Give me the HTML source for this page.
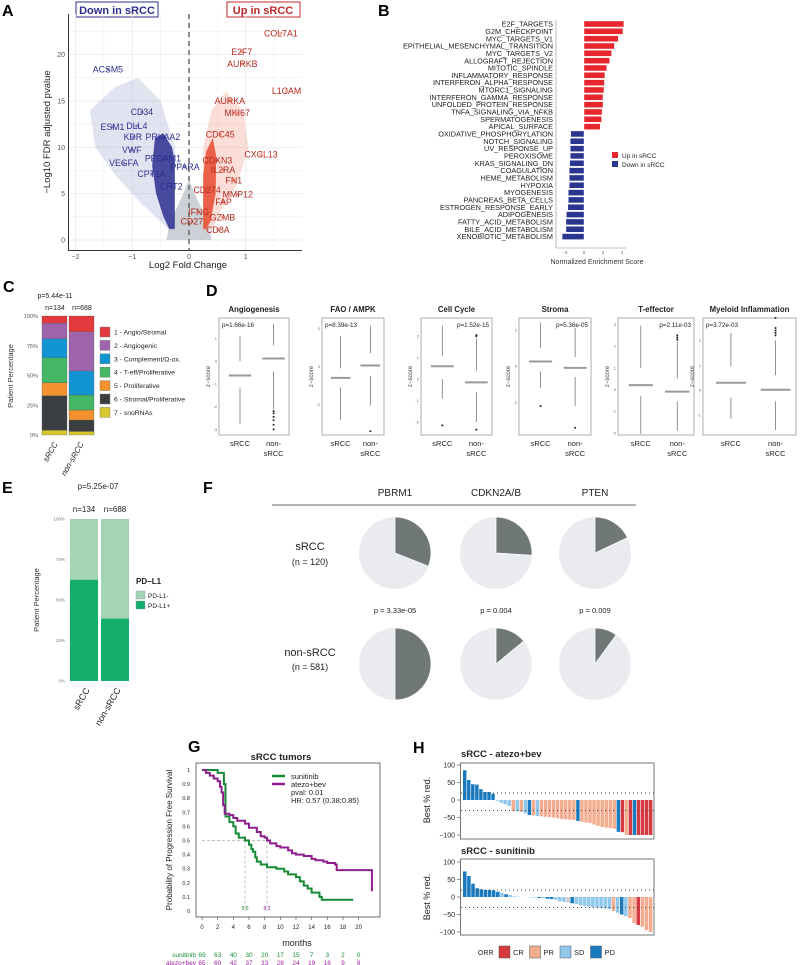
<!DOCTYPE html>
<html><head><meta charset="utf-8">
<style>
html,body{margin:0;padding:0;background:#fff;}
svg{display:block;font-family:"Liberation Sans",sans-serif;}
</style></head>
<body>
<svg id="fig" width="800" height="965" viewBox="0 0 800 965">
<rect x="0" y="0" width="800" height="965" fill="#fff"/>
<g font-weight="bold" font-size="16" fill="#000">
<text x="2" y="16">A</text>
<text x="378" y="16">B</text>
<text x="3" y="292">C</text>
<text x="206" y="296">D</text>
<text x="2" y="493">E</text>
<text x="203" y="493">F</text>
<text x="188" y="752">G</text>
<text x="413" y="753">H</text>
</g>
<rect x="76" y="2" width="82" height="15" fill="none" stroke="#2d2f8f" stroke-width="1"/>
<text x="117" y="14" text-anchor="middle" font-size="11" font-weight="bold" fill="#2d2f8f">Down in sRCC</text>
<rect x="227" y="2" width="73" height="15" fill="none" stroke="#c0282e" stroke-width="1"/>
<text x="263" y="14" text-anchor="middle" font-size="11" font-weight="bold" fill="#c0282e">Up in  sRCC</text>
<text x="188" y="268" text-anchor="middle" font-size="9.5" fill="#222">Log2 Fold Change</text>
<text transform="translate(50,132) rotate(-90)" text-anchor="middle" font-size="9.5" fill="#222">−Log10 FDR adjusted pvalue</text>
<text x="597" y="264" text-anchor="middle" font-size="7" fill="#333">Normalized Enrichment Score</text>
<rect x="612" y="152" width="6" height="6" fill="#e8262e"/>
<text x="622" y="158" font-size="6.5" fill="#222">Up in sRCC</text>
<rect x="612" y="161" width="6" height="6" fill="#2a3590"/>
<text x="622" y="167" font-size="6.5" fill="#222">Down in sRCC</text>
<text x="55" y="298" text-anchor="middle" font-size="7" fill="#222">p=5.44e-11</text>
<text x="55" y="310" text-anchor="middle" font-size="7" fill="#222">n=134</text>
<text x="82" y="310" text-anchor="middle" font-size="7" fill="#222">n=688</text>
<text transform="translate(13,376) rotate(-90)" text-anchor="middle" font-size="7.5" fill="#333">Patient Percentage</text>
<text transform="translate(58,444) rotate(-60)" text-anchor="end" font-size="8" font-style="italic" fill="#222">sRCC</text>
<text transform="translate(84,444) rotate(-60)" text-anchor="end" font-size="8" font-style="italic" fill="#222">non-sRCC</text>
<text x="98" y="489" text-anchor="middle" font-size="8" fill="#222">p=5.25e-07</text>
<text x="84" y="512" text-anchor="middle" font-size="8" fill="#222">n=134</text>
<text x="115" y="512" text-anchor="middle" font-size="8" fill="#222">n=688</text>
<text transform="translate(39,600) rotate(-90)" text-anchor="middle" font-size="7.5" fill="#333">Patient Percentage</text>
<text transform="translate(90,690) rotate(-60)" text-anchor="end" font-size="9" fill="#222">sRCC</text>
<text transform="translate(121,690) rotate(-60)" text-anchor="end" font-size="9" fill="#222">non-sRCC</text>
<text x="136" y="584" font-size="8" font-weight="bold" fill="#222">PD−L1</text>
<rect x="136" y="591" width="9" height="8" fill="#a3d4b3" stroke="#999" stroke-width="0.4"/>
<text x="148" y="598" font-size="6.5" fill="#222">PD-L1-</text>
<rect x="136" y="601" width="9" height="8" fill="#13ad6c" stroke="#999" stroke-width="0.4"/>
<text x="148" y="608" font-size="6.5" fill="#222">PD-L1+</text>
<line x1="272" y1="505" x2="636" y2="505" stroke="#666" stroke-width="1"/>
<text x="310" y="550" text-anchor="middle" font-size="11" fill="#222">sRCC</text>
<text x="310" y="565" text-anchor="middle" font-size="9" fill="#222">(n = 120)</text>
<text x="310" y="656" text-anchor="middle" font-size="11" fill="#222">non-sRCC</text>
<text x="310" y="670" text-anchor="middle" font-size="9" fill="#222">(n = 581)</text>
<text x="281" y="760" text-anchor="middle" font-size="9.5" font-weight="bold" fill="#222">sRCC tumors</text>
<text x="297" y="946" text-anchor="middle" font-size="9" fill="#222">months</text>
<text transform="translate(172,840) rotate(-90)" text-anchor="middle" font-size="8" fill="#222">Probability of Progression Free Survival</text>
<line x1="272" y1="776" x2="285" y2="776" stroke="#178a36" stroke-width="2.5"/>
<text x="291" y="779" font-size="7.5" fill="#222">sunitinib</text>
<line x1="272" y1="784" x2="285" y2="784" stroke="#8e1e8e" stroke-width="2.5"/>
<text x="291" y="787" font-size="7.5" fill="#222">atezo+bev</text>
<text x="291" y="795" font-size="7.5" fill="#222">pval: 0.01</text>
<text x="291" y="803" font-size="7.5" fill="#222">HR: 0.57 (0.38;0.85)</text>
<text x="196" y="957" text-anchor="end" font-size="6.5" fill="#178a36">sunitinib</text>
<text x="196" y="965" text-anchor="end" font-size="6.5" fill="#97239a">atezo+bev</text>
<text x="461" y="757" font-size="9.5" font-weight="bold" fill="#222">sRCC - atezo+bev</text>
<text x="461" y="854" font-size="9.5" font-weight="bold" fill="#222">sRCC - sunitinib</text>
<text transform="translate(430,800) rotate(-90)" text-anchor="middle" font-size="9" fill="#222">Best % red.</text>
<text transform="translate(430,897) rotate(-90)" text-anchor="middle" font-size="9" fill="#222">Best % red.</text>
<text x="478" y="955" font-size="7" fill="#222">ORR</text>
</svg>
<script>
const aGenes=['ACSM5','CD34','ESM1','DLL4','KDR','PRKAA2','VWF','PECAM1','VEGFA','PPARA','CPT1A','CPT2','COL7A1','E2F7','AURKB','L1CAM','AURKA','MKI67','CDC45','CXCL13','CDKN3','IL2RA','FN1','CD274','MMP12','FAP','IFNG','GZMB','CD27','CD8A'];
const aFC=[-1.43,-0.83,-1.35,-0.92,-0.99,-0.46,-1.01,-0.46,-1.15,-0.07,-0.66,-0.31,1.62,0.93,0.94,1.72,0.72,0.85,0.55,1.27,0.5,0.6,0.79,0.32,0.86,0.61,0.17,0.59,0.05,0.51];
const aP=[18.4,13.8,12.2,12.3,11.1,11.1,9.7,8.8,8.3,7.9,7.1,5.75,22.3,20.3,19.0,16.1,15.0,13.7,11.4,9.2,8.6,7.55,6.4,5.4,4.9,4.1,3.0,2.45,2.0,1.1];
const aXTicks=[-2,-1,0,1];
const aYTicks=[0,5,10,15,20];
const bPathways=['E2F_TARGETS','G2M_CHECKPOINT','MYC_TARGETS_V1','EPITHELIAL_MESENCHYMAL_TRANSITION','MYC_TARGETS_V2','ALLOGRAFT_REJECTION','MITOTIC_SPINDLE','INFLAMMATORY_RESPONSE','INTERFERON_ALPHA_RESPONSE','MTORC1_SIGNALING','INTERFERON_GAMMA_RESPONSE','UNFOLDED_PROTEIN_RESPONSE','TNFA_SIGNALING_VIA_NFKB','SPERMATOGENESIS','APICAL_SURFACE','OXIDATIVE_PHOSPHORYLATION','NOTCH_SIGNALING','UV_RESPONSE_UP','PEROXISOME','KRAS_SIGNALING_DN','COAGULATION','HEME_METABOLISM','HYPOXIA','MYOGENESIS','PANCREAS_BETA_CELLS','ESTROGEN_RESPONSE_EARLY','ADIPOGENESIS','FATTY_ACID_METABOLISM','BILE_ACID_METABOLISM','XENOBIOTIC_METABOLISM'];
const bNES=[4.2,4.1,3.6,3.2,2.9,2.7,2.4,2.2,2.15,2.1,2.0,2.0,1.9,1.85,1.7,-1.4,-1.45,-1.45,-1.45,-1.5,-1.55,-1.55,-1.55,-1.65,-1.65,-1.7,-1.85,-1.9,-1.9,-2.3];
const bTicks=[-2,0,2,4];
const cSubtypes=['1 - Angio/Stromal','2 - Angiogenic','3 - Complement/Ω-ox.','4 - T-eff/Proliferative','5 - Proliferative','6 - Stromal/Proliferative','7 - snoRNAs'];
const cSRCC=[6,13,16,21,11,29,4];
const cNonSRCC=[13.2,33,20.2,12.6,8.4,9.6,3];
const cTicks=['0%','25%','50%','75%','100%'];
const dTitles=['Angiogenesis','FAO / AMPK','Cell Cycle','Stroma','T-effector','Myeloid Inflammation'];
const dPvals=['p=1.66e-16','p=8.39e-13','p=1.52e-15','p=5.36e-05','p=2.11e-03','p=3.72e-03'];
const dMedS=[-0.63,-0.6,0.6,0.25,0.2,0.3];
const dMedN=[0.12,0.05,-0.15,-0.1,-0.1,0.02];
const dQ1S=[-1.2,-1.1,0.0,-0.3,-0.3,-0.3];
const dQ3S=[0.0,-0.1,1.1,1.0,1.0,0.95];
const dLoS=[-2.75,-2.8,-0.9,-1.2,-2.05,-1.15];
const dHiS=[1.1,1.6,2.5,2.4,2.95,2.3];
const dQ1N=[-0.45,-0.5,-0.6,-0.6,-0.55,-0.45];
const dQ3N=[0.7,0.7,0.4,0.5,0.5,0.6];
const dLoN=[-2.1,-2.05,-2.0,-2.2,-1.9,-1.6];
const dHiN=[1.65,2.15,1.9,2.1,2.2,2.0];
const dOutS=[[],[],[-2.15],[-2.2],[],[]];
const dOutN=[[-2.2,-2.3,-2.45,-2.6,-2.8,-3.0],[-3.4],[2.05,2.0,-2.35],[-3.4],[2.3,2.4,2.5],[2.2,2.3,2.4,2.5,2.9]];
const dYTicks=[[1,0,-1,-2,-3],[2,0,-2],[2,1,0,-1,-2],[2,0,-2],[3,2,1,0,-1,-2],[2,1,0,-1]];
const ePos=[62.5,38.5];
const fGenes=['PBRM1','CDKN2A/B','PTEN'];
const fSRCC=[0.31,0.26,0.18];
const fNon=[0.5,0.14,0.1];
const fPvals=['p = 3.33e-05','p = 0.004','p = 0.009'];
const gSunT=[0,2,2.8,2.8,3,3.5,4,4.3,4.7,5.5,6,6.3,6.5,6.8,7,7.5,8.3,9.5,10.5,11,12,12.5,13,13.5,14,15,15.3,19.3];
const gSunS=[1,0.98,0.95,0.9,0.67,0.63,0.6,0.55,0.52,0.5,0.47,0.44,0.42,0.38,0.35,0.33,0.31,0.3,0.28,0.26,0.24,0.21,0.18,0.16,0.13,0.1,0.08,0.08];
const gAtzT=[0,0.5,1,1.5,2,2.3,2.5,2.7,2.9,3.5,4,4.5,5.5,6,7,7.5,8,8.3,8.7,9.5,10,11,11.5,12,13,14,14.5,15.5,16,17,17.2,21.7,21.7];
const gAtzS=[1,0.98,0.96,0.94,0.92,0.88,0.84,0.75,0.69,0.68,0.66,0.64,0.62,0.59,0.56,0.53,0.52,0.5,0.48,0.46,0.45,0.43,0.41,0.4,0.39,0.37,0.36,0.35,0.34,0.33,0.29,0.28,0.14];
const gXTicks=[0,2,4,6,8,10,12,14,16,18,20];
const gYTicks=[0,0.1,0.2,0.3,0.4,0.5,0.6,0.7,0.8,0.9,1];
const gRiskSun=[69,63,40,30,20,17,15,7,3,2,0];
const gRiskAtz=[65,60,42,37,33,28,24,19,16,9,9];
const gMedians=[5.5,8.3];
const hAtzVals=[85,57,45,44,31,23,23,18,-2,-8,-12,-17,-32,-32,-34,-38,-43,-44,-46,-47,-48,-49,-50,-52,-54,-55,-56,-57,-60,-62,-64,-66,-70,-74,-77,-79,-80,-82,-91,-92,-100,-100,-100,-100,-100,-100,-100];
const hAtzResp=['PD','PD','PD','PD','PD','PD','PD','PD','SD','SD','SD','SD','PR','SD','PR','SD','PD','PR','SD','PR','PR','PR','PR','PR','PR','PR','PR','PR','PD','PR','PR','PR','PR','PR','PR','PR','PR','PR','PD','CR','PR','CR','PD','CR','CR','CR','CR'];
const hSunVals=[73,60,38,25,22,20,20,19,15,12,8,6,2,1,0,0,-1,-2,-3,-3,-5,-6,-8,-12,-14,-16,-18,-20,-23,-25,-27,-29,-30,-31,-33,-35,-40,-45,-50,-55,-60,-75,-80,-85,-95,-100];
const hSunResp=['PD','PD','PD','PD','PD','PD','PD','PD','PD','SD','PD','SD','SD','SD','SD','SD','SD','SD','PD','SD','PD','PD','SD','SD','SD','NA','PD','SD','SD','SD','SD','SD','SD','SD','SD','SD','PR','SD','PD','SD','PR','PR','CR','PR','PR','PR'];
const hTicks=[100,50,0,-50,-100];
const hLegend=['CR','PR','SD','PD'];

const svg=document.getElementById('fig');
const NS='http://www.w3.org/2000/svg';
function mk(tag,attrs,txt){const e=document.createElementNS(NS,tag);for(const k in attrs)e.setAttribute(k,attrs[k]);if(txt!==undefined)e.textContent=txt;svg.appendChild(e);return e;}

// A
const xA=v=>189+v*56.7, yA=v=>240-v*9.27;
for(let v=-2;v<=1.5;v+=0.5){const l=mk('line',{x1:xA(v),x2:xA(v),y1:14,y2:250,stroke:'#ececec','stroke-width':v%1===0?0.9:0.5});

}
for(let v=0;v<=22.5;v+=2.5){const l=mk('line',{x1:69,x2:302,y1:yA(v),y2:yA(v),stroke:'#ececec','stroke-width':v%5===0?0.9:0.5});

}
const cloudGrey=[[-0.4,0],[0.4,0],[0.35,1.5],[0.25,3],[0.1,5],[0,6.5],[-0.1,5],[-0.25,3],[-0.35,1.5]];
const cloudBlueHaze=[[-0.25,1],[-0.25,10],[-0.5,15],[-0.9,17.5],[-1.3,16.5],[-1.75,14],[-1.65,10],[-1.3,7],[-0.85,4],[-0.5,2],[-0.35,1]];
const cloudBlue=[[-0.25,1.2],[-0.25,8.5],[-0.3,10],[-0.45,11.5],[-0.6,11],[-0.65,8],[-0.58,5],[-0.45,2.5],[-0.35,1.2]];
const cloudRedHaze=[[0.25,1],[0.25,10],[0.4,14],[0.65,16],[0.95,14],[1.05,10],[0.85,6],[0.55,3],[0.4,1]];
const cloudRed=[[0.25,1.2],[0.25,7],[0.3,9.5],[0.42,11],[0.48,9],[0.47,5],[0.38,2],[0.3,1.2]];
function poly(pts,fill,op,name){const p=mk('polygon',{points:pts.map(q=>xA(q[0])+','+yA(q[1])).join(' '),fill:fill,'fill-opacity':op});

}
poly(cloudGrey,'#c3c9d0',0.85,'a-nonsig-cloud');
poly(cloudBlueHaze,'#8d90c8',0.25,'a-down-cloud-sparse');
poly(cloudBlue,'#2d2f8f',0.85,'a-down-cloud-dense');
poly(cloudRedHaze,'#f4a08f',0.35,'a-up-cloud-sparse');
poly(cloudRed,'#e84a30',0.85,'a-up-cloud-dense');
const dl=mk('line',{x1:xA(0),x2:xA(0),y1:14,y2:250,stroke:'#666','stroke-width':1.5,'stroke-dasharray':'5,4'});


aGenes.forEach((g,i)=>{const up=aFC[i]>0;
const c=mk('circle',{cx:xA(aFC[i]),cy:yA(aP[i]),r:1.6,fill:up?'#e84a30':'#2d2f8f','fill-opacity':0.5});


const t=mk('text',{x:xA(aFC[i]),y:yA(aP[i])+3,'text-anchor':'middle','font-size':8.8,fill:up?'#b52a1e':'#2d2f8f'},g);

});
let ax=mk('line',{x1:68,x2:302,y1:250.5,y2:250.5,stroke:'#333','stroke-width':1});


ax=mk('line',{x1:68.5,x2:68.5,y1:14,y2:251,stroke:'#333','stroke-width':1});


aXTicks.forEach(v=>{const t=mk('text',{x:xA(v),y:259,'text-anchor':'middle','font-size':7,fill:'#555'},v===-2?'−2':v===-1?'−1':String(v));

});
aYTicks.forEach(v=>{const t=mk('text',{x:65,y:yA(v)+2.5,'text-anchor':'end','font-size':7,fill:'#555'},String(v));

});

// B
const xB=v=>584+v*9.5, yB=i=>24+i*7.33;
bPathways.forEach((p,i)=>{const v=bNES[i];
const r=mk('rect',{x:Math.min(xB(0),xB(v)),y:yB(i)-3,width:Math.abs(xB(v)-xB(0)),height:6,fill:v>0?'#e8262e':'#2a3590',stroke:'#fff','stroke-width':0.4});


const t=mk('text',{x:553,y:yB(i)+2.6,'text-anchor':'end','font-size':7.3,fill:'#222'},p);

});
ax=mk('line',{x1:556,x2:556,y1:20,y2:248,stroke:'#888','stroke-width':0.6});


ax=mk('line',{x1:556,x2:626,y1:248,y2:248,stroke:'#888','stroke-width':0.6});


bTicks.forEach(v=>{const t=mk('text',{x:xB(v),y:254,'text-anchor':'middle','font-size':4.5,fill:'#666'},v<0?'−'+(-v):String(v));

});

// C
const cColors=['#e3383c','#9e65ac','#1495d3','#45b866','#f3922f','#3b3f41','#d6c72c'];
const yC=p=>435-p*1.19;
function stack(vals,x0,w,name){let acc=0;for(let k=vals.length-1;k>=0;k--){const r=mk('rect',{x:x0,y:yC(acc+vals[k]),width:w,height:vals[k]*1.19,fill:cColors[k],stroke:'#555','stroke-width':0.3});


acc+=vals[k];}}
stack(cSRCC,42,25,'c-srcc');stack(cNonSRCC,69,25,'c-nonsrcc');
cTicks.forEach((s,i)=>{const t=mk('text',{x:38,y:yC(i*25)+2,'text-anchor':'end','font-size':5.5,fill:'#555'},s);

});
cSubtypes.forEach((s,i)=>{const y=332+i*13.4;
const r=mk('rect',{x:100,y:y-5,width:10,height:10,fill:cColors[i],stroke:'#777','stroke-width':0.4});


const t=mk('text',{x:114,y:y+2.5,'font-size':6.8,fill:'#222'},s);

});

// D
const dFx=[[219,289],[322,384],[421,492],[519,591],[618,694],[703,796]];
const dTop=318,dBot=435;
dTitles.forEach((ttl,i)=>{const [x0,x1]=dFx[i];const ticks=dYTicks[i];
const tmax=Math.max(...ticks),tmin=Math.min(...ticks);
const pad=[[0.9,0.25],[0.55,1.6],[0.85,0.6],[0.65,1.8],[0.3,0.1],[0.9,0.8]][i];
const lo=tmin-pad[1],hi=tmax+pad[0];
const yD=v=>dBot-(v-lo)/(hi-lo)*(dBot-dTop);
const f=mk('rect',{x:x0,y:dTop,width:x1-x0,height:dBot-dTop,fill:'#fff',stroke:'#999','stroke-width':0.8});


const t=mk('text',{x:(x0+x1)/2,y:312,'text-anchor':'middle','font-size':7.8,'font-weight':'bold',fill:'#222'},ttl);


const left=[0,1,5].includes(i);
const pt=mk('text',{x:left?x0+3:x1-3,y:dTop+9,'text-anchor':left?'start':'end','font-size':6.3,fill:'#222'},dPvals[i]);


ticks.forEach(v=>{const tt=mk('text',{x:x0-2,y:yD(v)+1.5,'text-anchor':'end','font-size':4,fill:'#666'},String(v));

});
const yl=mk('text',{transform:`translate(${x0-9},${(dTop+dBot)/2}) rotate(-90)`,'text-anchor':'middle','font-size':6,fill:'#444'},'z−score');


const w=x1-x0;
[[0.3,dMedS,dQ1S,dQ3S,dLoS,dHiS,dOutS,'srcc'],[0.78,dMedN,dQ1N,dQ3N,dLoN,dHiN,dOutN,'nonsrcc']].forEach(g=>{const cx=x0+w*g[0];
let l=mk('line',{x1:cx,x2:cx,y1:yD(g[5][i]),y2:yD(g[3][i]),stroke:'#777','stroke-width':0.8});


l=mk('line',{x1:cx,x2:cx,y1:yD(g[2][i]),y2:yD(g[4][i]),stroke:'#777','stroke-width':0.8});


l=mk('line',{x1:cx-w*0.16,x2:cx+w*0.16,y1:yD(g[1][i]),y2:yD(g[1][i]),stroke:'#999','stroke-width':2});


g[6][i].forEach(o=>{const c=mk('circle',{cx:cx,cy:yD(o),r:1,fill:'#222'});

});
const lb=mk('text',{x:cx,y:446,'text-anchor':'middle','font-size':7.5,fill:'#222'},g[7]==='srcc'?'sRCC':'non-');


if(g[7]!=='srcc'){const lb2=mk('text',{x:cx,y:456,'text-anchor':'middle','font-size':7.5,fill:'#222'},'sRCC');

}
});});

// E
const yE=p=>681-p*1.62;
[[70,ePos[0],'srcc'],[101,ePos[1],'nonsrcc']].forEach(b=>{
let r=mk('rect',{x:b[0],y:yE(100),width:28,height:(100-b[1])*1.62,fill:'#a3d4b3'});


r=mk('rect',{x:b[0],y:yE(b[1]),width:28,height:b[1]*1.62,fill:'#13ad6c'});

});
cTicks.forEach((s,i)=>{const t=mk('text',{x:65,y:yE(i*25)+1.5,'text-anchor':'end','font-size':4.5,fill:'#777'},s);

});

// F
const fX=[395,496,595];
function pie(cx,cy,frac,name){const r=36;
const c=mk('circle',{cx:cx,cy:cy,r:r,fill:'#e9ebef'});


const a=frac*2*Math.PI;const ex=cx+r*Math.sin(a),ey=cy-r*Math.cos(a);
const p=mk('path',{d:`M${cx},${cy} L${cx},${cy-r} A${r},${r} 0 ${frac>0.5?1:0} 1 ${ex},${ey} Z`,fill:'#6f7877',stroke:'#fff','stroke-width':0.8});

}
fGenes.forEach((g,i)=>{const t=mk('text',{x:fX[i],y:496,'text-anchor':'middle','font-size':10,fill:'#222'},g);


pie(fX[i],553,fSRCC[i],'f-pie-srcc-'+i);
pie(fX[i],664,fNon[i],'f-pie-nonsrcc-'+i);
const pv=mk('text',{x:fX[i],y:613,'text-anchor':'middle','font-size':7.5,fill:'#222'},fPvals[i]);

});

// G
const xG=t=>202+t*7.83, yG=s=>911-s*141;
const gf=mk('rect',{x:196,y:763,width:184,height:154,fill:'none',stroke:'#444','stroke-width':0.8});


let gd=mk('path',{d:`M${xG(0)},${yG(0.5)} H${xG(gMedians[1])} M${xG(gMedians[0])},${yG(0.5)} V${yG(0)} M${xG(gMedians[1])},${yG(0.5)} V${yG(0)}`,fill:'none',stroke:'#aaa','stroke-width':0.7,'stroke-dasharray':'3,2'});


gMedians.forEach((m,i)=>{const t=mk('text',{x:xG(m),y:yG(0)-1,'text-anchor':'middle','font-size':5,fill:i?'#97239a':'#178a36'},String(m));

});
function km(T,S,col,name){let d=`M${xG(T[0])},${yG(S[0])}`;for(let k=1;k<T.length;k++){d+=` H${xG(T[k])} V${yG(S[k])}`;}
const p=mk('path',{d:d,fill:'none',stroke:col,'stroke-width':2});

}
km(gSunT,gSunS,'#178a36','g-curve-sunitinib');
km(gAtzT,gAtzS,'#8e1e8e','g-curve-atezo-bev');
gXTicks.forEach((v,i)=>{let l=mk('line',{x1:xG(v),x2:xG(v),y1:917,y2:920,stroke:'#444','stroke-width':0.6});


let t=mk('text',{x:xG(v),y:929,'text-anchor':'middle','font-size':6,fill:'#222'},String(v));


t=mk('text',{x:xG(v),y:957,'text-anchor':'middle','font-size':6.5,fill:'#178a36'},String(gRiskSun[i]));


t=mk('text',{x:xG(v),y:965,'text-anchor':'middle','font-size':6.5,fill:'#97239a'},String(gRiskAtz[i]));

});
gYTicks.forEach(v=>{const t=mk('text',{x:190,y:yG(v)+2,'text-anchor':'end','font-size':5.5,fill:'#222'},String(v));

});

// H
const hCol={CR:'#d43a3f',PR:'#f2ac8f',SD:'#90c8ec',PD:'#1a7ac0',NA:'#cfcfcf'};
function waterfall(vals,resp,top,zero,name){const y=v=>zero-v*0.35;const x0=463,W=190;const bw=W/vals.length;
const f=mk('rect',{x:460.5,y:top,width:193.5,height:76,fill:'none',stroke:'#555','stroke-width':0.8});


vals.forEach((v,i)=>{const r=mk('rect',{x:x0+i*bw,y:Math.min(y(v),y(0)),width:Math.max(bw-0.6,0.5),height:Math.abs(y(v)-y(0)),fill:hCol[resp[i]]});

});
[20,-30].forEach(v=>{const l=mk('line',{x1:461,x2:654,y1:y(v),y2:y(v),stroke:'#444','stroke-width':1,'stroke-dasharray':'1,3'});

});
hTicks.forEach(v=>{const t=mk('text',{x:455,y:y(v)+2.5,'text-anchor':'end','font-size':7,fill:'#222'},v<0?'−'+(-v):String(v));


const l=mk('line',{x1:457,x2:460.5,y1:y(v),y2:y(v),stroke:'#444','stroke-width':0.6});

});}
waterfall(hAtzVals,hAtzResp,763,800,'h-atezo');
waterfall(hSunVals,hSunResp,859,897,'h-sunitinib');
hLegend.forEach((k,i)=>{const x=499+i*30.5;
const r=mk('rect',{x:x,y:946,width:11,height:12,fill:hCol[k],stroke:'#555','stroke-width':0.5});


const t=mk('text',{x:x+14,y:955,'font-size':7.5,fill:'#222'},k);

});
</script>
</body></html>
